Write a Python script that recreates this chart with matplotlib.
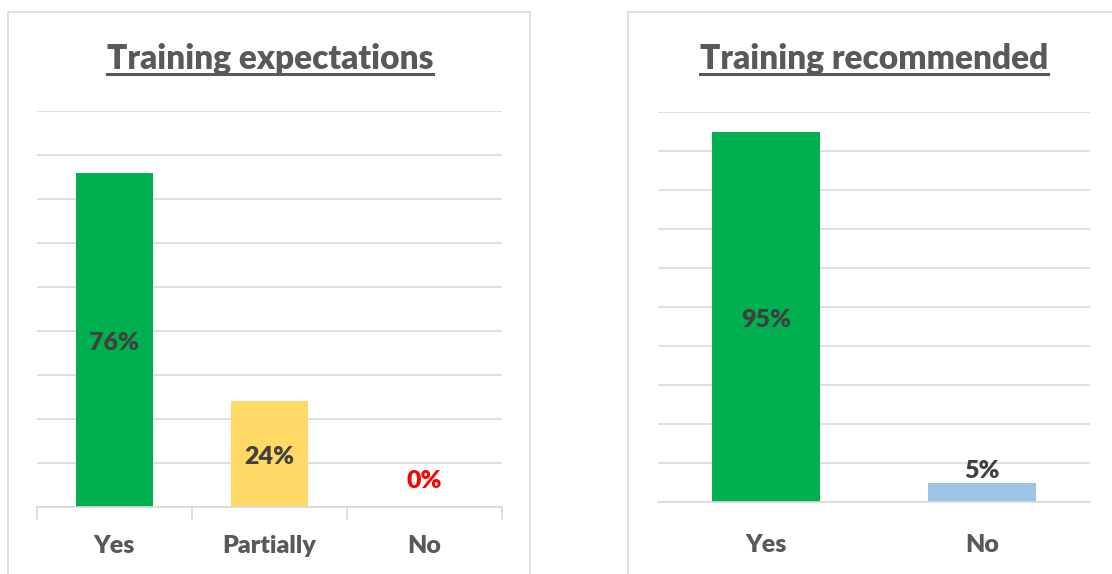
"""
plot.py

two survey bar charts side by side, Excel style
"""

import matplotlib
matplotlib.use('Agg')
import matplotlib.pyplot as plt
from matplotlib.patches import Rectangle
from matplotlib.lines import Line2D

# data
exp_cats = ['Yes', 'Partially', 'No']
exp_vals = [0.76, 0.24, 0.00]
exp_colors = ['#00B050', '#FFD966', '#00B050']

rec_cats = ['Yes', 'No']
rec_vals = [0.95, 0.05]
rec_colors = ['#00B050', '#9DC3E6']

W, H = 1112, 574
DPI = 100
FONT = ['Lato', 'DejaVu Sans']
WT = 800
GRID = '#d9d9d9'
TXT = '#595959'
LBL = '#404040'

plt.rcParams['font.family'] = FONT

fig = plt.figure(figsize=(W / DPI, H / DPI), dpi=DPI)


def px_rect(x0, y0, x1, y1):
    # pixel box (top-left origin) -> figure fraction rect
    return [x0 / W, 1 - y1 / H, (x1 - x0) / W, (y1 - y0) / H]


def panel_box(x0, y0, x1, y1):
    r = Rectangle((x0 / W, 1 - y1 / H), (x1 - x0) / W, (y1 - y0) / H,
                  transform=fig.transFigure, fill=False, edgecolor=GRID,
                  linewidth=1.2, zorder=0)
    fig.add_artist(r)


def underlined_title(text, xc, ybase):
    t = fig.text(xc / W, 1 - ybase / H, text, ha='center', va='baseline',
                 fontsize=24, fontweight=WT, color=TXT)
    fig.canvas.draw()
    bb = t.get_window_extent()
    yline = H - (ybase + 5)
    ln = Line2D([bb.x0 / W, bb.x1 / W], [yline / H, yline / H],
                transform=fig.transFigure, color=TXT, linewidth=2.2)
    fig.add_artist(ln)


def setup_axes(ax, ncat, ymax, cats, ticks_out, pad):
    ax.set_xlim(-0.5, ncat - 0.5)
    ax.set_ylim(0, ymax)
    ax.set_yticks([i / 10 for i in range(int(round(ymax * 10)) + 1)])
    ax.yaxis.grid(True, color=GRID, linewidth=1.2)
    ax.set_axisbelow(True)
    ax.tick_params(axis='y', length=0, labelleft=False)
    for s in ['left', 'right', 'top']:
        ax.spines[s].set_visible(False)
    ax.spines['bottom'].set_color(GRID)
    ax.spines['bottom'].set_linewidth(1.2)
    ax.set_xticks(range(ncat))
    ax.set_xticklabels(cats, fontsize=18, fontweight=WT, color=TXT)
    ax.tick_params(axis='x', length=0, pad=pad)
    if ticks_out:
        ax.set_xticks([i - 0.5 for i in range(ncat + 1)], minor=True)
        ax.tick_params(axis='x', which='minor', length=9, color=GRID,
                       width=1.2, direction='out')


def center_label(ax, i, v, color=LBL):
    ax.annotate('{:.0%}'.format(v), (i, v / 2), xytext=(0, -2),
                textcoords='offset points', ha='center', va='center',
                fontsize=18, fontweight=WT, color=color)


# left panel
panel_box(8, 12, 530, 600)
underlined_title('Training expectations', 270, 69)
ax1 = fig.add_axes(px_rect(37, 111, 502, 507))
setup_axes(ax1, len(exp_cats), 0.9, exp_cats, True, 20)
ax1.bar(range(len(exp_cats)), exp_vals, width=0.5, color=exp_colors)
for i, v in enumerate(exp_vals):
    if v > 0:
        center_label(ax1, i, v)
    else:
        ax1.annotate('{:.0%}'.format(v), (i, v), xytext=(0, 11),
                     textcoords='offset points', ha='center', va='bottom',
                     fontsize=18, fontweight=WT, color='#FF0000')

# right panel
panel_box(628, 12, 1140, 600)
underlined_title('Training recommended', 874, 69)
ax2 = fig.add_axes(px_rect(658, 112, 1090, 502))
setup_axes(ax2, len(rec_cats), 1.0, rec_cats, False, 23)
ax2.bar(range(len(rec_cats)), rec_vals, width=0.5, color=rec_colors)
for i, v in enumerate(rec_vals):
    if v > 0.2:
        center_label(ax2, i, v)
    else:
        ax2.annotate('{:.0%}'.format(v), (i, v), xytext=(0, 0),
                     textcoords='offset points', ha='center', va='bottom',
                     fontsize=18, fontweight=WT, color=LBL)

fig.savefig('out.png', dpi=DPI)
